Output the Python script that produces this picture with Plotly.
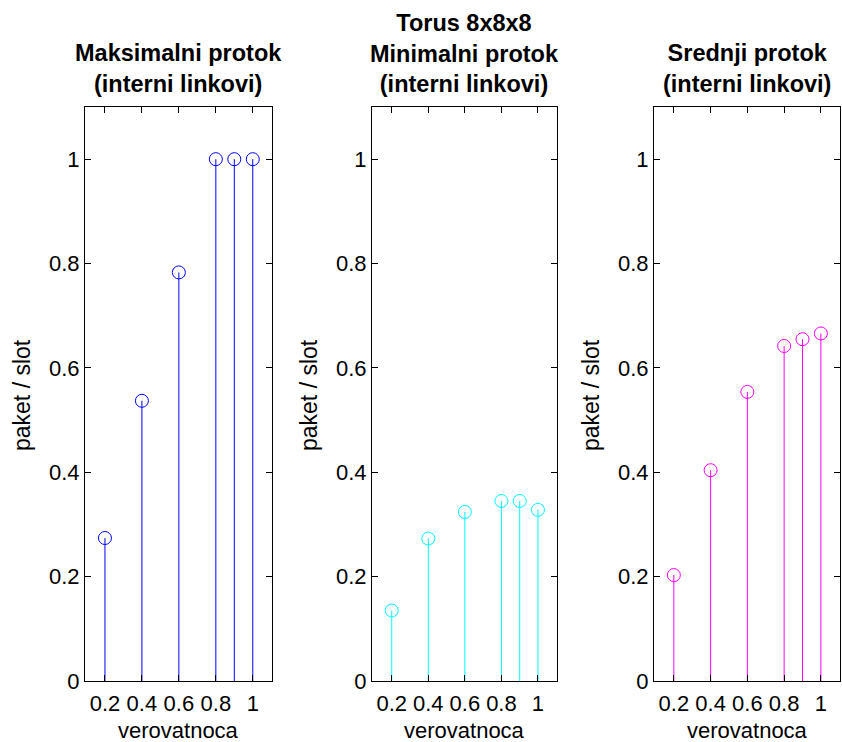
import plotly.graph_objects as go

# ---- data ----
probabilities = [0.2, 0.4, 0.6, 0.8, 0.9, 1.0]
max_flow = [0.274, 0.537, 0.783, 1.0, 1.0, 1.0]
min_flow = [0.135, 0.273, 0.324, 0.345, 0.345, 0.328]
avg_flow = [0.203, 0.404, 0.554, 0.642, 0.655, 0.666]

panel_titles = [
    "Maksimalni protok<br>(interni linkovi)",
    "Torus 8x8x8<br>Minimalni protok<br>(interni linkovi)",
    "Srednji protok<br>(interni linkovi)",
]
series = [max_flow, min_flow, avg_flow]
colors = ["#0000ff", "#00ffff", "#ff00ff"]
x_tickvals = [0.2, 0.4, 0.6, 0.8, 1.0]
x_ticktext = ["0.2", "0.4", "0.6", "0.8", "1"]
y_tickvals = [0, 0.2, 0.4, 0.6, 0.8, 1.0]
y_ticktext = ["0", "0.2", "0.4", "0.6", "0.8", "1"]
x_label = "verovatnoca"
y_label = "paket / slot"

# ---- layout geometry (pixels) ----
W, H = 842, 742
panels_px = [(85, 272), (372, 557), (654, 840)]
top_px, bottom_px = 107, 681
FONT = "Liberation Sans, Arial, sans-serif"

fig = go.Figure()
annotations = []

for i, (vals, col, (x0, x1)) in enumerate(zip(series, colors, panels_px)):
    n = "" if i == 0 else str(i + 1)
    xa, ya = "x" + n, "y" + n
    # stems
    sx, sy = [], []
    for xv, yv in zip(probabilities, vals):
        sx += [xv, xv, None]
        sy += [0, yv, None]
    fig.add_trace(go.Scatter(x=sx, y=sy, mode="lines",
                             line=dict(color=col, width=1),
                             xaxis=xa, yaxis=ya, showlegend=False,
                             hoverinfo="skip"))
    fig.add_trace(go.Scatter(x=probabilities, y=vals, mode="markers",
                             marker=dict(symbol="circle-open", size=13,
                                         color=col, line=dict(width=1, color=col)),
                             xaxis=xa, yaxis=ya, showlegend=False))
    axis_common = dict(showline=True, linecolor="black", linewidth=1,
                       mirror="allticks", ticks="inside", ticklen=6,
                       tickcolor="black", showgrid=False, zeroline=False,
                       automargin=False,
                       tickfont=dict(family=FONT, size=22, color="black"))
    fig.update_layout(**{
        "xaxis" + n: dict(domain=[x0 / W, x1 / W], range=[0.092, 1.104],
                          tickmode="array", tickvals=x_tickvals,
                          ticktext=x_ticktext, anchor=ya,
                          ticklabelstandoff=3, **axis_common),
        "yaxis" + n: dict(domain=[1 - bottom_px / H, 1 - top_px / H],
                          range=[0, 1.1], tickmode="array",
                          tickvals=y_tickvals, ticktext=y_ticktext,
                          anchor=xa, ticklabelstandoff=0, **axis_common),
    })
    cx = (x0 + x1) / 2
    annotations.append(dict(text="<b>" + panel_titles[i] + "</b>",
                            x=cx / W, y=1 - 99 / H, xref="paper", yref="paper",
                            xanchor="center", yanchor="bottom", showarrow=False,
                            font=dict(family=FONT, size=23.5, color="black")))
    annotations.append(dict(text=x_label, x=cx / W, y=1 - 730 / H,
                            xref="paper", yref="paper", xanchor="center",
                            yanchor="middle", showarrow=False,
                            font=dict(family=FONT, size=22, color="black")))
    annotations.append(dict(text=y_label, x=(x0 - 63) / W, y=1 - 395 / H,
                            xref="paper", yref="paper", xanchor="center",
                            yanchor="middle", textangle=-90, showarrow=False,
                            font=dict(family=FONT, size=23, color="black")))

fig.update_layout(width=W, height=H, autosize=False,
                  margin=dict(l=0, r=0, t=0, b=0, autoexpand=False),
                  paper_bgcolor="white", plot_bgcolor="white",
                  annotations=annotations)

fig.write_html("out.html",
               config={"displayModeBar": False, "responsive": False},
               post_script="document.body.style.margin='0px';"
                           "document.body.style.overflow='hidden';")
